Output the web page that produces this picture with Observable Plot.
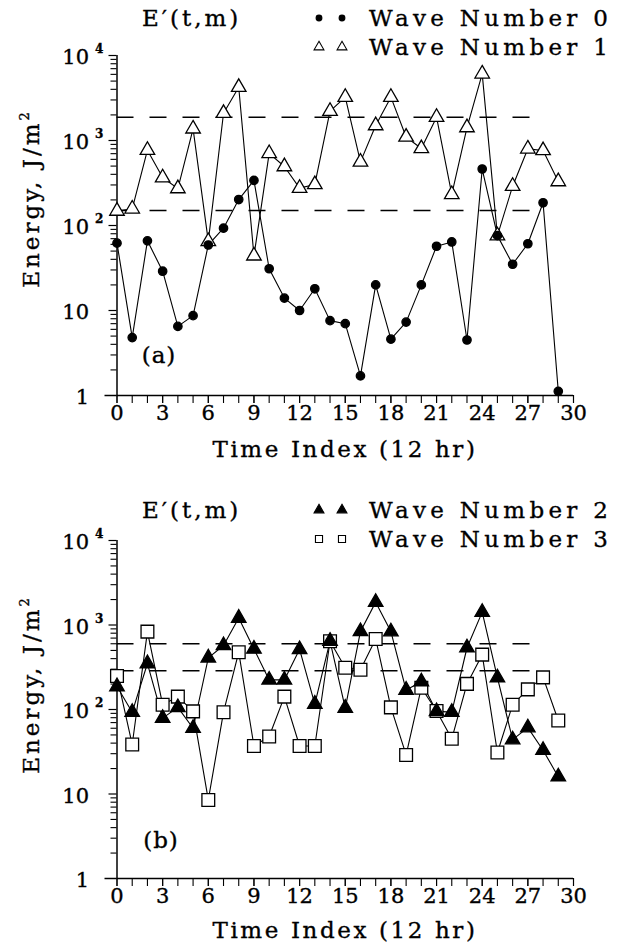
<!DOCTYPE html>
<html>
<head>
<meta charset="utf-8">
<script src="https://cdn.jsdelivr.net/npm/d3@7"></script>
<script src="https://cdn.jsdelivr.net/npm/@observablehq/plot@0.6"></script>
<style>
  html, body { margin: 0; padding: 0; background: #fff; overflow: hidden; }
  #fig { position: relative; width: 620px; height: 948px; font-family: "DejaVu Serif", serif; color: #000; background: #fff; }
  #fig svg text { stroke: #000; stroke-width: 0.35px; }
  .panel { position: absolute; left: 0; }
  .txt { position: absolute; white-space: nowrap; line-height: 1; font-size: 23px; transform: translateY(-50%); -webkit-text-stroke: 0.35px #000; }
  .ctr { transform: translate(-50%, -50%); }
  .ytitle { position: absolute; white-space: nowrap; line-height: 1; font-size: 23px; letter-spacing: 3px; transform: translate(-50%, -50%) rotate(-90deg); -webkit-text-stroke: 0.35px #000; }
  .ytitle sup, .txt sup { font-size: 13px; vertical-align: 10px; letter-spacing: 0; }
  .sym { position: absolute; transform: translate(-50%, -50%); overflow: visible; }
</style>
</head>
<body>
<div id="fig"></div>
<script>
// Time index, in 12-hour steps
const timeIndex = [0, 1, 2, 3, 4, 5, 6, 7, 8, 9, 10, 11, 12, 13, 14, 15, 16, 17, 18, 19, 20, 21, 22, 23, 24, 25, 26, 27, 28, 29];

// Energy E'(t,m) in J/m^2 for each zonal wave number
const wave0 = [62, 4.8, 66, 29, 6.5, 8.7, 59, 93, 202, 339, 31, 14, 10, 18, 7.6, 7.0, 1.7, 20, 4.6, 7.3, 20, 57, 64, 4.5, 462, 76, 35, 61, 185, 1.12];
const wave1 = [148, 157, 770, 366, 272, 1372, 65, 2094, 4236, 44, 705, 494, 275, 304, 2213, 3235, 560, 1500, 3235, 1100, 805, 1880, 232, 1420, 6086, 76, 290, 798, 763, 329];
const wave2 = [187, 93, 350, 79, 106, 60, 409, 572, 1208, 520, 224, 224, 515, 116, 645, 104, 840, 1865, 835, 170, 213, 95, 93, 538, 1420, 238, 44, 61, 33, 16];
const wave3 = [249, 38.5, 835, 114, 142, 95, 8.5, 93, 477, 37, 48, 142, 37, 37, 643, 312, 296, 684, 106, 29, 181, 96, 45, 201, 446, 31, 114, 173, 240, 74];

// Dashed reference levels in each panel
const dashLevelsA = [150, 1880];
const dashLevelsB = [288, 598];
const dashStart = 0;
const dashEnd = 28;

// Axis ticks and labels
const xMinorTicks = [0, 1, 2, 3, 4, 5, 6, 7, 8, 9, 10, 11, 12, 13, 14, 15, 16, 17, 18, 19, 20, 21, 22, 23, 24, 25, 26, 27, 28, 29, 30];
const xLabelTicks = [0, 3, 6, 9, 12, 15, 18, 21, 24, 27, 30];
const xTickLabels = ["0", "3", "6", "9", "12", "15", "18", "21", "24", "27", "30"];
const yDecades = [1, 10, 100, 1000, 10000];
const yBase = ["1", "10", "10", "10", "10"];
const yExp = ["", "", "2", "3", "4"];
const yMinorTicks = [2, 3, 4, 5, 6, 7, 8, 9, 20, 30, 40, 50, 60, 70, 80, 90, 200, 300, 400, 500, 600, 700, 800, 900, 2000, 3000, 4000, 5000, 6000, 7000, 8000, 9000];

// Text
const panelTitle = "E\u2032(t,m)";
const xTitle = "Time Index (12 hr)";
const yTitle = "Energy, J/m<sup>2</sup>";
const legendA = ["Wave Number 0", "Wave Number 1"];
const legendB = ["Wave Number 2", "Wave Number 3"];
const panelTags = ["(a)", "(b)"];

const rows = (vals) => timeIndex.map((t, i) => ({t, v: vals[i]}));

function panel(seriesList, dashLevels, opts) {
  const marks = [
    Plot.ruleY(dashLevels, {x1: dashStart, x2: dashEnd, stroke: "black", strokeWidth: 1.5, strokeDasharray: "17,16"}),
    Plot.ruleX([0], {stroke: "black", strokeWidth: 1.5}),
    Plot.ruleY([1], {stroke: "black", strokeWidth: 1.5}),
    Plot.axisY(yMinorTicks, {tickSize: 6, tickFormat: () => "", label: null, strokeWidth: 1.1}),
    Plot.axisY(yDecades.slice(1), {tickSize: 8, tickFormat: () => "", label: null, strokeWidth: 1.2}),
    Plot.axisY([1], {tickSize: 12, tickFormat: () => "", label: null, strokeWidth: 1.5}),
    Plot.text(yDecades, {y: d => d, text: (d, i) => yBase[i], frameAnchor: "left", dx: -28, dy: 2, textAnchor: "end", fontSize: 21, fill: "black"}),
    Plot.text(yDecades, {y: d => d, text: (d, i) => yExp[i], frameAnchor: "left", dx: -22, dy: -6, textAnchor: "start", fontSize: 12, fontWeight: "bold", fill: "black"}),
    Plot.axisX(xMinorTicks, {tickSize: 8, tickFormat: () => "", label: null, strokeWidth: 1.1}),
    Plot.axisX(xLabelTicks, {tickSize: 8, tickPadding: 2, tickFormat: d => xTickLabels[xLabelTicks.indexOf(d)], label: null, fontSize: 21, strokeWidth: 1.1})
  ];
  for (const s of seriesList) {
    marks.push(Plot.line(rows(s.values), {x: "t", y: "v", stroke: "black", strokeWidth: 1.1}));
  }
  for (const s of seriesList) {
    marks.push(Plot.dot(rows(s.values), {x: "t", y: "v", symbol: s.symbol, r: s.r, fill: s.fill, stroke: "black", strokeWidth: 1.3}));
  }
  return Plot.plot({
    width: 620,
    height: opts.height,
    marginLeft: 116.5,
    marginRight: 47,
    marginTop: opts.marginTop,
    marginBottom: opts.marginBottom,
    style: {fontFamily: "'DejaVu Serif', serif", fontSize: "21px", color: "black", background: "transparent", overflow: "visible"},
    x: {domain: [0, 30], label: null},
    y: {type: "log", domain: [1, 10000], label: null},
    marks
  });
}

const fig = document.getElementById("fig");

function place(node, top) {
  node.classList.add("panel");
  node.style.top = top + "px";
  fig.appendChild(node);
}

place(panel([
  {values: wave1, symbol: "triangle", r: 5.4, fill: "white"},
  {values: wave0, symbol: "circle", r: 4.2, fill: "black"}
], dashLevelsA, {height: 470, marginTop: 55, marginBottom: 75}), 0);

place(panel([
  {values: wave3, symbol: "square", r: 7.2, fill: "white"},
  {values: wave2, symbol: "triangle", r: 5.4, fill: "black"}
], dashLevelsB, {height: 470, marginTop: 62, marginBottom: 70}), 478);

function addText(html, x, y, cls, extra) {
  const d = document.createElement("div");
  d.className = cls;
  d.innerHTML = html;
  d.style.left = x + "px";
  d.style.top = y + "px";
  if (extra) Object.assign(d.style, extra);
  fig.appendChild(d);
  return d;
}

function addSymbol(type, filled, size, x, y) {
  const svg = d3.create("svg").attr("class", "sym").attr("width", 14).attr("height", 14)
    .attr("viewBox", "-7 -7 14 14")
    .style("left", x + "px").style("top", y + "px");
  svg.append("path")
    .attr("d", d3.symbol(type, size)())
    .attr("fill", filled ? "black" : "white")
    .attr("stroke", "black")
    .attr("stroke-width", 1.1);
  fig.appendChild(svg.node());
}

function header(y1, y2, labels, sym1, sym2) {
  addText(panelTitle, 142, y1, "txt", {letterSpacing: "3px"});
  addText(labels[0], 369, y1, "txt", {letterSpacing: "4.3px"});
  addText(labels[1], 369, y2, "txt", {letterSpacing: "4.3px"});
  for (const x of [319, 342]) {
    addSymbol(sym1.type, sym1.filled, sym1.size, x, y1);
    addSymbol(sym2.type, sym2.filled, sym2.size, x, y2);
  }
}

header(18, 47, legendA,
  {type: d3.symbolCircle, filled: true, size: 26},
  {type: d3.symbolTriangle, filled: false, size: 42});
header(510, 539, legendB,
  {type: d3.symbolTriangle, filled: true, size: 42},
  {type: d3.symbolSquare, filled: false, size: 50});

addText(xTitle, 345, 449, "txt ctr", {letterSpacing: "2.6px"});
addText(xTitle, 345, 930, "txt ctr", {letterSpacing: "2.6px"});
addText(yTitle, 30, 200, "ytitle");
addText(yTitle, 30, 686, "ytitle");
addText(panelTags[0], 159, 355, "txt ctr", {fontSize: "23px", letterSpacing: "1px"});
addText(panelTags[1], 161, 840, "txt ctr", {fontSize: "23px", letterSpacing: "1px"});
</script>
</body>
</html>
